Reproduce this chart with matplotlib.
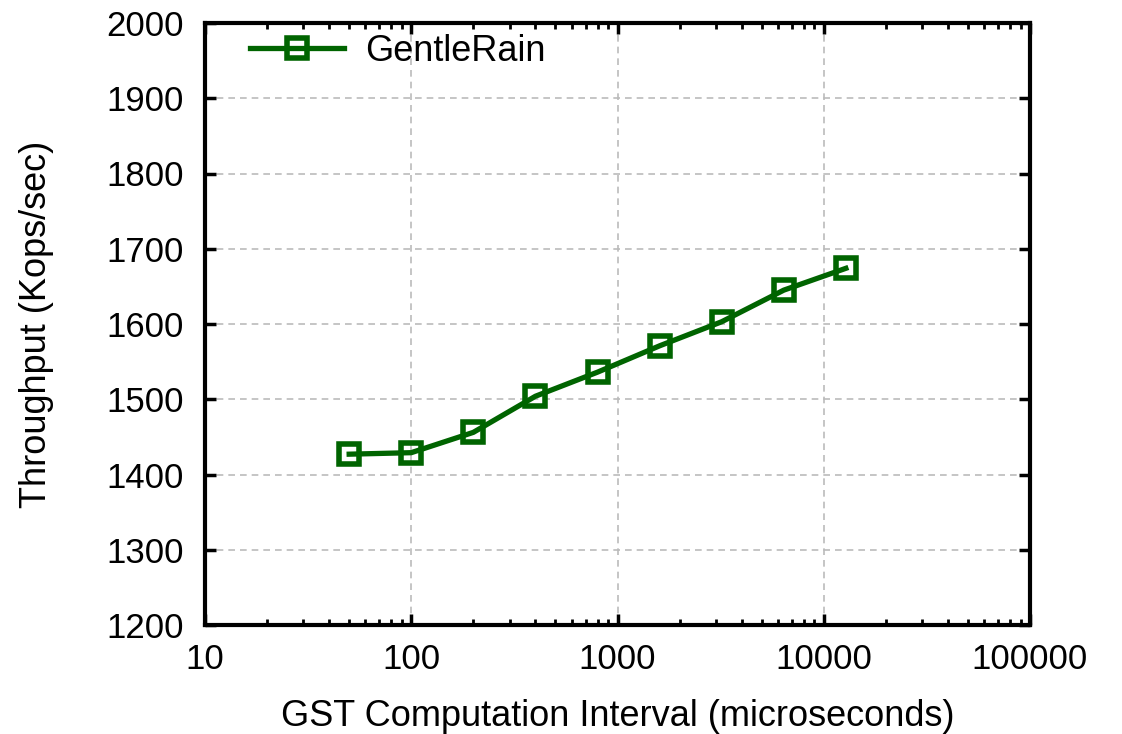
import matplotlib
matplotlib.use("Agg")
import matplotlib.pyplot as plt
from matplotlib.ticker import LogLocator, FixedLocator, FixedFormatter

plt.rcParams['font.family'] = ['Liberation Sans', 'DejaVu Sans']

intervals = [50, 100, 200, 400, 800, 1600, 3200, 6400, 12800]
throughput = [1427, 1429, 1456, 1504, 1536, 1571, 1603, 1645, 1674]
series_name = "GentleRain"
xlabel = "GST Computation Interval (microseconds)"
ylabel = "Throughput (Kops/sec)"
xticks = [10, 100, 1000, 10000, 100000]
xticklabels = ["10", "100", "1000", "10000", "100000"]
yticks = [1200, 1300, 1400, 1500, 1600, 1700, 1800, 1900, 2000]

W, H = 1122, 734
fig = plt.figure(figsize=(W/100, H/100), dpi=100)
ax = fig.add_axes([205/W, 1 - 625/H, (1030-205)/W, (625-23)/H])

ax.plot(intervals, throughput, color='#006400', lw=3.8, marker='s', ms=14.5,
        mew=4, mfc='none', mec='#006400', label=series_name)

ax.set_xscale('log')
ax.set_xlim(10, 100000)
ax.set_ylim(1200, 2000)
ax.xaxis.set_major_locator(FixedLocator(xticks))
ax.xaxis.set_major_formatter(FixedFormatter(xticklabels))
ax.xaxis.set_minor_locator(LogLocator(base=10, subs=range(2, 10), numticks=20))
ax.xaxis.set_minor_formatter(plt.NullFormatter())
ax.set_yticks(yticks)

ax.grid(True, which='major', color='#bbbbbb', linestyle=(0, (4, 3)), lw=1.2)
for s in ax.spines.values():
    s.set_linewidth(3)
ax.tick_params(which='major', direction='in', length=8, width=2.5,
               top=True, right=True, labelsize=25)
ax.tick_params(axis='y', which='major', pad=15)
ax.tick_params(axis='x', which='major', pad=13)
ax.tick_params(which='minor', direction='in', length=4, width=2,
               top=True, right=True)

ax.set_xlabel(xlabel, fontsize=26)
ax.set_ylabel(ylabel, fontsize=26)
ax.xaxis.set_label_coords(0.5, -(716 - 625) / (625 - 23), transform=ax.transAxes)
ax.xaxis.label.set_va('center')
ax.yaxis.set_label_coords(-(205 - 37) / (1030 - 205), 0.5, transform=ax.transAxes)
ax.yaxis.label.set_va('center')

ax.legend(loc='upper left', frameon=False, fontsize=26, handlelength=2.6,
          handletextpad=0.6, borderpad=0, borderaxespad=0,
          bbox_to_anchor=(250/W, 1 - 34/H), bbox_transform=fig.transFigure)

fig.savefig("out.png", dpi=100)
